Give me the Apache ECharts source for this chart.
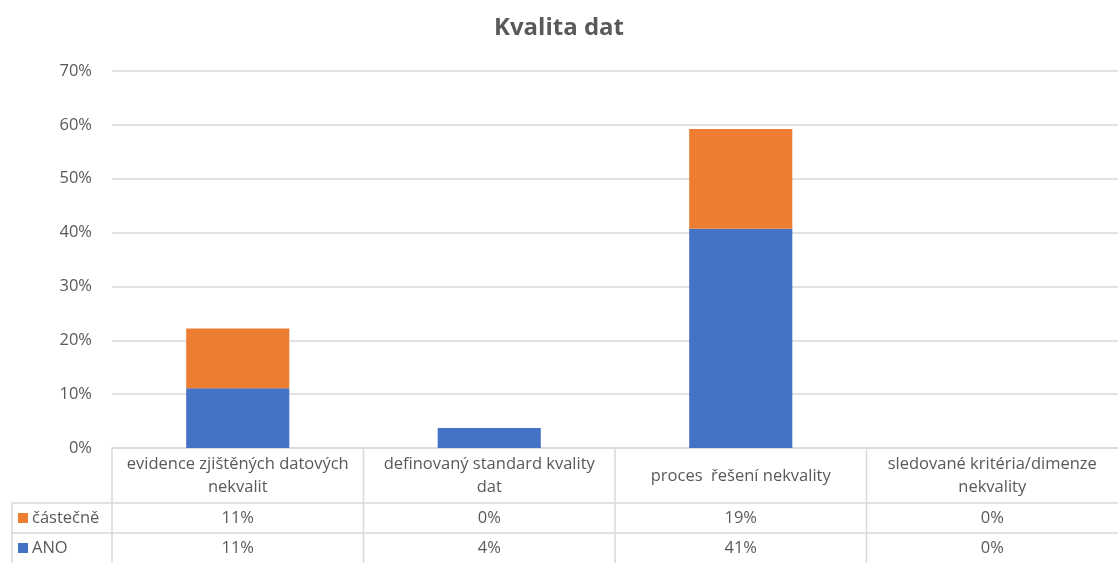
<!DOCTYPE html>
<html>
<head>
<meta charset="utf-8">
<script src="https://cdn.jsdelivr.net/npm/echarts@6/dist/echarts.min.js"></script>
<style>
html,body{margin:0;padding:0;background:#fff;}
#main{width:1118px;height:563px;}
</style>
</head>
<body>
<div id="main"></div>
<script>
const titleText = 'Kvalita dat';
const categories = ['evidence zjištěných datových\nnekvalit', 'definovaný standard kvality\ndat', 'proces  řešení nekvality', 'sledované kritéria/dimenze\nnekvality'];
const seriesNames = ['ANO', 'částečně'];
const anoValues = [0.111, 0.037, 0.407, 0];
const castecneValues = [0.111, 0, 0.1852, 0];
const colors = ['#4472C4', '#ED7D31'];
const yMin = 0, yMax = 0.7, yInterval = 0.1;

const FONT = 'Open Sans';
const TXT = '#595959';
const LINE = '#d9d9d9';
const FS = 16.5;

const chart = echarts.init(document.getElementById('main'));
const pct = v => Math.round(v * 100) + '%';

chart.setOption({
  animation: false,
  backgroundColor: '#fff',
  title: {
    text: titleText, left: 'center', top: 11,
    textStyle: { fontFamily: FONT, fontSize: 24, fontWeight: 'bold', color: TXT }
  },
  grid: { left: 112, right: 0, top: 71, bottom: 115 },
  xAxis: {
    type: 'category', data: categories,
    axisLine: { lineStyle: { color: LINE, width: 1.5 } },
    axisTick: { show: false },
    axisLabel: {
      interval: 0, margin: 28, verticalAlign: 'middle', lineHeight: 23,
      fontFamily: FONT, fontSize: FS, color: TXT
    }
  },
  yAxis: {
    type: 'value', min: yMin, max: yMax, interval: yInterval,
    axisLine: { show: false }, axisTick: { show: false },
    splitLine: { lineStyle: { color: LINE, width: 1.5 } },
    axisLabel: { formatter: v => Math.round(v * 100) + '%', margin: 20, fontFamily: FONT, fontSize: FS, color: TXT }
  },
  series: [
    { name: seriesNames[0], type: 'bar', stack: 's', data: anoValues, barCategoryGap: '59%', itemStyle: { color: colors[0] } },
    { name: seriesNames[1], type: 'bar', stack: 's', data: castecneValues, barCategoryGap: '59%', itemStyle: { color: colors[1] } }
  ]
});

function drawTable() {
  const x0 = 112, x1 = 1118, leftX = 12;
  const yHead = 448, yRow1 = 503, yRow2 = 533, yBot = 563;
  const els = [];
  const line = (xa, ya, xb, yb) => els.push({ type: 'line', shape: { x1: xa, y1: ya, x2: xb, y2: yb }, style: { stroke: LINE, lineWidth: 1.5 }, silent: true });
  line(leftX, yRow1, x1, yRow1);
  line(leftX, yRow2, x1, yRow2);
  line(leftX, yRow1, leftX, yBot);
  line(x0, yHead, x0, yBot);
  const n = categories.length;
  const w = (x1 - x0) / n;
  for (let i = 1; i < n; i++) line(x0 + w * i, yHead, x0 + w * i, yBot);
  const rows = [
    { name: seriesNames[1], color: colors[1], vals: castecneValues, y: (yRow1 + yRow2) / 2 },
    { name: seriesNames[0], color: colors[0], vals: anoValues, y: (yRow2 + yBot) / 2 }
  ];
  rows.forEach(r => {
    els.push({ type: 'rect', shape: { x: 18, y: r.y - 5, width: 10, height: 10 }, style: { fill: r.color }, silent: true });
    els.push({ type: 'text', x: 32, y: r.y, style: { text: r.name, fontFamily: FONT, fontSize: FS, fill: TXT, verticalAlign: 'middle', align: 'left' }, silent: true });
    r.vals.forEach((v, i) => {
      const cx = chart.convertToPixel({ xAxisIndex: 0 }, i);
      els.push({ type: 'text', x: cx, y: r.y, style: { text: pct(v), fontFamily: FONT, fontSize: FS, fill: TXT, verticalAlign: 'middle', align: 'center' }, silent: true });
    });
  });
  chart.setOption({ graphic: els });
}
drawTable();
</script>
</body>
</html>
